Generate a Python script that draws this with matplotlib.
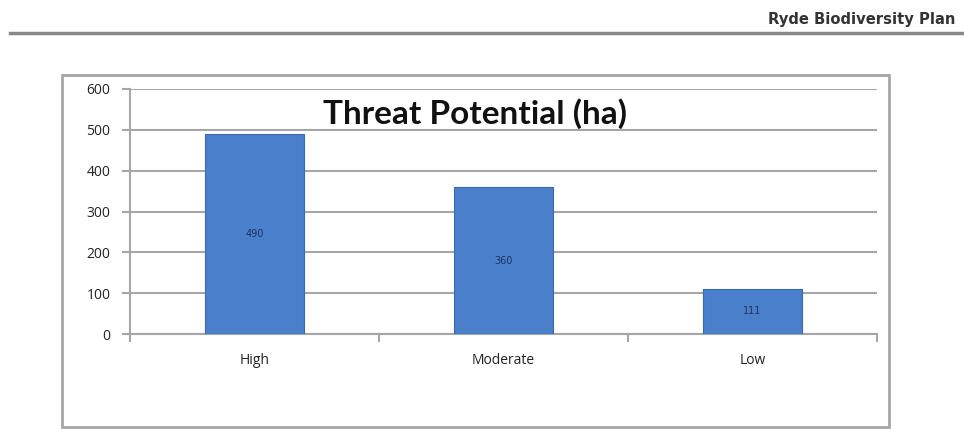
import matplotlib
matplotlib.use("Agg")
import matplotlib.pyplot as plt
from matplotlib.patches import Rectangle
from matplotlib.lines import Line2D

categories = ["High", "Moderate", "Low"]
values = [490, 360, 111]
value_labels = ["490", "360", "111"]
yticks = [0, 100, 200, 300, 400, 500, 600]
title = "Threat Potential (ha)"
header = "Ryde Biodiversity Plan"

grey = "#a6a6a6"
fig = plt.figure(figsize=(9.64, 4.29), dpi=100)

# header
fig.text(0.991, 0.955, header, ha="right", va="center", fontsize=10.6,
         fontweight="bold", family="DejaVu Sans", color="#333333")
fig.add_artist(Line2D([10/964, 1.0], [1-33/429, 1-33/429], transform=fig.transFigure,
                      color="#888888", lw=2.5))

# chart frame
fig.add_artist(Rectangle((62/964, 1-427/429), (889-62)/964, (427-75)/429,
                         transform=fig.transFigure, fill=False, edgecolor=grey, lw=2))

ax = fig.add_axes([130/964, 1-334/429, 747/964, 245/429])
x = list(range(len(categories)))
bars = ax.bar(x, values, width=0.4, color="#4a7fcc", edgecolor="#3a6aae", lw=0.8, zorder=3)
for xi, v, lab in zip(x, values, value_labels):
    ax.text(xi, v/2, lab, ha="center", va="center", fontsize=7, color="#1f3460", zorder=4)

ax.set_xlim(-0.5, 2.5)
ax.set_ylim(0, 600)
ax.set_yticks(yticks)
ax.set_yticklabels([str(t) for t in yticks], fontsize=10, family="Open Sans", color="#222222")
ax.set_xticks([-0.5, 0.5, 1.5, 2.5], minor=False)
ax.set_xticklabels([])
ax.set_xticks(x, minor=True)
ax.set_xticklabels(categories, minor=True, fontsize=10, family="Open Sans", color="#222222")
ax.tick_params(axis="x", which="minor", length=0, pad=14)
ax.tick_params(axis="x", which="major", length=6, color=grey, width=1.5)
ax.tick_params(axis="y", length=6, color=grey, width=1.5, pad=8)
ax.grid(axis="y", color=grey, lw=1.5, zorder=0)
for s in ["top", "right"]:
    ax.spines[s].set_visible(False)
for s in ["left", "bottom"]:
    ax.spines[s].set_color(grey)
    ax.spines[s].set_linewidth(1.5)

ax.text(0.462, 0.898, title, transform=ax.transAxes, ha="center", va="center",
        fontsize=24, fontweight="bold", family="Lato", color="#111111")

fig.savefig("out.png", dpi=100)
